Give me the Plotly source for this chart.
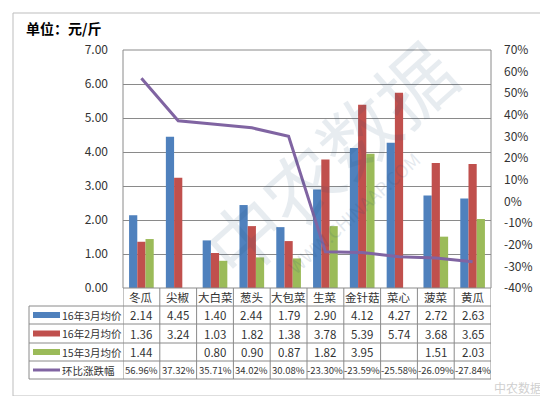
import plotly.graph_objects as go

categories = ["冬瓜", "尖椒", "大白菜", "葱头", "大包菜", "生菜", "金针菇", "菜心", "菠菜", "黄瓜"]
series_names = ["16年3月均价", "16年2月均价", "15年3月均价"]
mar16 = [2.14, 4.45, 1.40, 2.44, 1.79, 2.90, 4.12, 4.27, 2.72, 2.63]
feb16 = [1.36, 3.24, 1.03, 1.82, 1.38, 3.78, 5.39, 5.74, 3.68, 3.65]
mar15 = [1.44, None, 0.80, 0.90, 0.87, 1.82, 3.95, None, 1.51, 2.03]
line_name = "环比涨跌幅"
mom_pct = [56.96, 37.32, 35.71, 34.02, 30.08, -23.30, -23.59, -25.58, -26.09, -27.84]
left_ticks = [0, 1, 2, 3, 4, 5, 6, 7]
right_ticks = [-40, -30, -20, -10, 0, 10, 20, 30, 40, 50, 60, 70]
right_tick_text = [f"{v}%" for v in right_ticks]

colors = ["#4F81BD", "#C0504D", "#9BBB59"]
line_color = "#8064A2"
W, H = 548, 396
L, R, T, B = 115, 483, 42, 280
FONT = "Noto Sans CJK SC"
grid_c = "#8a8a8a"
txt_c = "#333333"


def px(x):
    return (x - L) / (R - L)


def py(y):
    return (B - y) / (B - T)


fig = go.Figure()
for name, vals, c in zip(series_names, [mar16, feb16, mar15], colors):
    fig.add_trace(go.Bar(x=categories, y=vals, name=name, marker=dict(color=c, line=dict(width=0)),
                         yaxis="y"))
fig.add_trace(go.Scatter(x=categories, y=mom_pct, name=line_name, mode="lines",
                         line=dict(color=line_color, width=3), yaxis="y2"))

shapes = []
annotations = []

shapes.append(dict(type="rect", xref="paper", yref="paper", x0=px(5), x1=px(540), y0=py(5), y1=py(388),
                   line=dict(color="#bdbdbd", width=1), layer="below"))
shapes.append(dict(type="rect", xref="paper", yref="paper", x0=0, x1=1, y0=0, y1=1,
                   line=dict(color=grid_c, width=1)))

row_lines = [298, 316, 335, 353, 371]
for yy in row_lines:
    shapes.append(dict(type="line", xref="paper", yref="paper", x0=px(21), x1=1, y0=py(yy), y1=py(yy),
                       line=dict(color=grid_c, width=1)))
shapes.append(dict(type="line", xref="paper", yref="paper", x0=px(21), x1=px(21), y0=py(298), y1=py(371),
                   line=dict(color=grid_c, width=1)))
for i in range(len(categories) + 1):
    shapes.append(dict(type="line", xref="x", yref="paper", x0=i - 0.5, x1=i - 0.5, y0=py(280), y1=py(371),
                       line=dict(color=grid_c, width=1)))

for c in categories:
    annotations.append(dict(x=c, xref="x", y=py(289), yref="paper", text=c, showarrow=False,
                            font=dict(family=FONT, size=11.5, color=txt_c), xanchor="center", yanchor="middle"))

row_centers = [307, 325.5, 344, 362]
legend_labels = series_names + [line_name]
for r, (lab, yc) in enumerate(zip(legend_labels, row_centers)):
    if r < 3:
        shapes.append(dict(type="rect", xref="paper", yref="paper", x0=px(25), x1=px(52),
                           y0=py(yc + 3), y1=py(yc - 3), fillcolor=colors[r], line=dict(width=0)))
    else:
        shapes.append(dict(type="line", xref="paper", yref="paper", x0=px(25), x1=px(52),
                           y0=py(yc), y1=py(yc), line=dict(color=line_color, width=3)))
    annotations.append(dict(x=px(52), xref="paper", y=py(yc), yref="paper", text=lab, showarrow=False,
                            font=dict(family=FONT, size=10.5, color=txt_c), xanchor="left", yanchor="middle"))

for r, vals in enumerate([mar16, feb16, mar15]):
    for c, v in zip(categories, vals):
        if v is None:
            continue
        annotations.append(dict(x=c, xref="x", y=py(row_centers[r]), yref="paper", text=f"{v:.2f}",
                                showarrow=False, font=dict(family=FONT, size=11.5, color=txt_c),
                                xanchor="center", yanchor="middle"))
for c, v in zip(categories, mom_pct):
    annotations.append(dict(x=c, xref="x", y=py(row_centers[3]), yref="paper", text=f"{v:.2f}%",
                            showarrow=False, font=dict(family=FONT, size=9.5, color=txt_c),
                            xanchor="center", yanchor="middle"))

annotations.append(dict(x=px(16), xref="paper", y=py(20), yref="paper", text="<b>单位：元/斤</b>",
                        showarrow=False, font=dict(family=FONT, size=14, color="#000"),
                        xanchor="left", yanchor="middle"))

annotations.append(dict(x=px(320), xref="paper", y=py(150), yref="paper", text="中农数据",
                        showarrow=False, textangle=-42, opacity=0.1,
                        font=dict(family=FONT, size=76, color="#1f4e79"), xanchor="center", yanchor="middle"))
annotations.append(dict(x=px(345), xref="paper", y=py(205), yref="paper", text="WWW.CHINAAP.COM",
                        showarrow=False, textangle=-42, opacity=0.12,
                        font=dict(family=FONT, size=18, color="#1f4e79"), xanchor="center", yanchor="middle"))
annotations.append(dict(x=px(536), xref="paper", y=py(379), yref="paper", text="中农数据",
                        showarrow=False, opacity=0.35,
                        font=dict(family=FONT, size=12, color="#777"), xanchor="right", yanchor="middle"))

fig.update_layout(
    width=W, height=H,
    margin=dict(l=L, r=W - R, t=T, b=H - B, pad=0),
    paper_bgcolor="white", plot_bgcolor="white",
    barmode="group", bargap=0.33, bargroupgap=0,
    showlegend=False,
    font=dict(family=FONT, size=12, color=txt_c),
    xaxis=dict(range=[-0.5, len(categories) - 0.5], showticklabels=False, showgrid=False,
               zeroline=False, showline=False, ticks=""),
    yaxis=dict(range=[0, 7], tickvals=left_ticks, tickformat=".2f", showgrid=True, gridcolor=grid_c,
               gridwidth=1, zeroline=False, showline=False, ticks="", ticklabelstandoff=14,
               tickfont=dict(family=FONT, size=12, color=txt_c)),
    yaxis2=dict(range=[-40, 70], tickvals=right_ticks, ticktext=right_tick_text, overlaying="y", side="right",
                showgrid=False, zeroline=False, showline=False, ticks="", ticklabelstandoff=12,
                tickfont=dict(family=FONT, size=12, color=txt_c)),
    shapes=shapes, annotations=annotations,
)

fig.write_html("out.html")
